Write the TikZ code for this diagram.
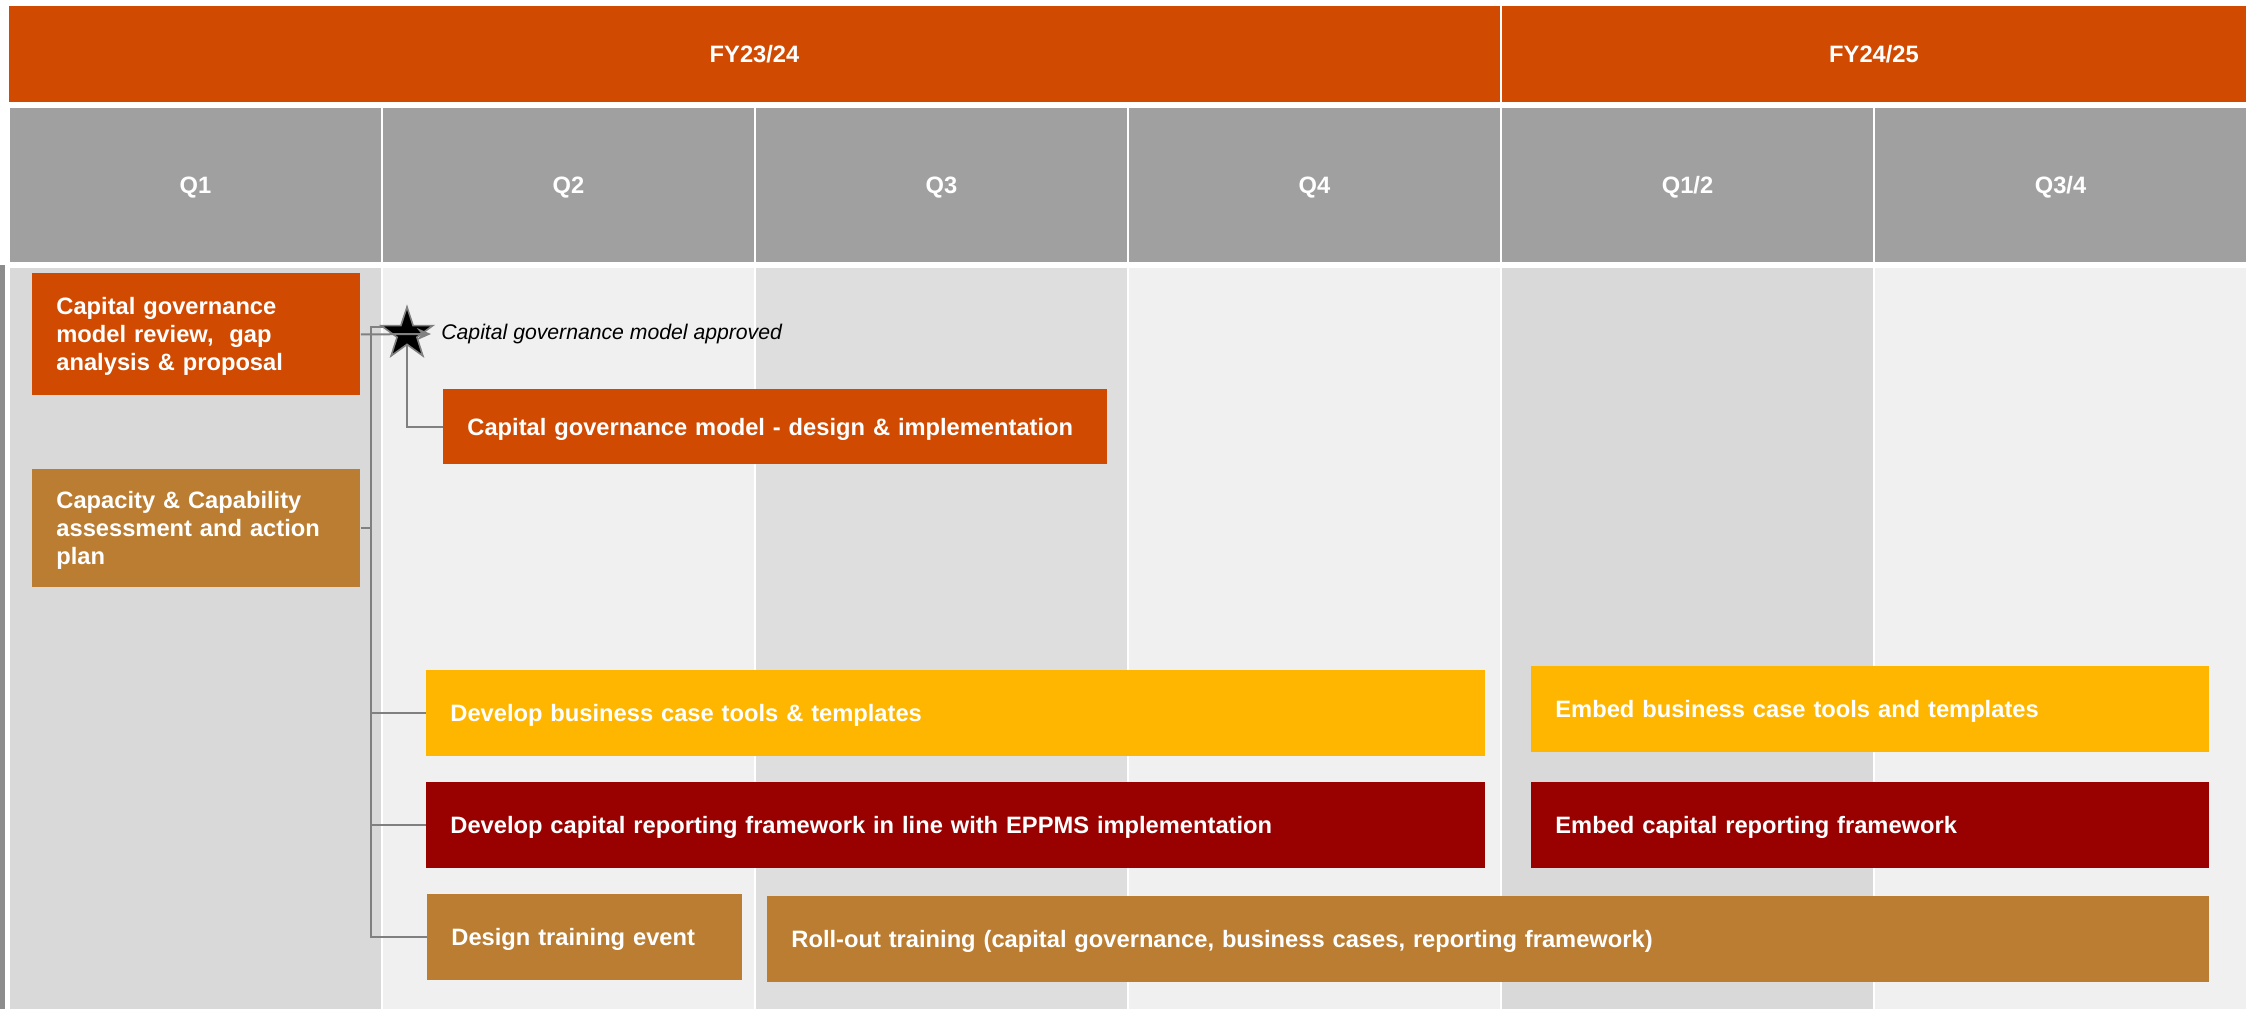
\documentclass[tikz,border=0pt]{standalone}
\usepackage{fontspec}
\setmainfont{Liberation Sans}
\usetikzlibrary{arrows.meta, positioning, shapes.geometric}
\definecolor{pwcorange}{HTML}{D04A02}
\definecolor{pwctan}{HTML}{BA7D32}
\definecolor{pwcyellow}{HTML}{FFB600}
\definecolor{pwcred}{HTML}{990000}
\definecolor{headgrey}{HTML}{A0A0A0}
\definecolor{bandA}{HTML}{D9D9D9}
\definecolor{bandB}{HTML}{F0F0F0}
\definecolor{bandC}{HTML}{DEDEDE}
\definecolor{linkgrey}{HTML}{808080}
\definecolor{edgegrey}{HTML}{8C8C8C}
\newcommand{\taskfont}{\fontsize{11.85}{14}\selectfont\bfseries}
\newcommand{\notefont}{\fontsize{10.6}{12.7}\selectfont\itshape}
\newcommand{\linestrut}{\rule[-0.212em]{0pt}{1.117em}}

\begin{document}
\begin{tikzpicture}[x=0.5pt, y=-0.5pt,
  yearbar/.style={fill=pwcorange, text=white, font=\taskfont, inner sep=0pt, minimum height=48pt, execute at begin node=\linestrut},
  quarter/.style={fill=headgrey, text=white, font=\taskfont, inner sep=0pt, minimum width=185.5pt, minimum height=77pt, execute at begin node=\linestrut},
  task/.style={fill=#1, text=white, font=\taskfont, align=left, anchor=north west, inner xsep=12pt, inner ysep=0pt, execute at begin node=\linestrut, execute at end node=\linestrut},
  link/.style={draw=linkgrey, line width=1pt},
  milestone/.style={star, star points=5, star point ratio=2.6, fill=black, draw=linkgrey, line width=0.8pt, minimum size=27pt, inner sep=0pt}]
  \useasboundingbox (0,0) rectangle (2260,1009);
  \fill[white] (0,0) rectangle (2260,1009);
  % Financial years
  \node[yearbar, minimum width=745.5pt] (fy1) at (754.5,54) {FY23/24};
  \node[yearbar, minimum width=372pt] (fy2) at (1874,54) {FY24/25};
  % Quarters
  \foreach \lab [count=\i from 0] in {Q1,Q2,Q3,Q4,Q1/2,Q3/4}
    \node[quarter] (q\i) at (195.5+373*\i,185) {\lab};
  % Column bands
  \foreach \shade [count=\i from 0] in {bandA,bandB,bandC,bandB,bandA,bandB}
    \fill[\shade] (10+373*\i,268) rectangle (381+373*\i,1009);
  \fill[edgegrey] (0,265) rectangle (5,1009);
  % Activities
  \node[task=pwcorange, text width=140pt, minimum height=61pt] (review) at (32,273) {Capital governance\\model review,~ gap\\analysis \& proposal};
  \node[task=pwctan, text width=140pt, minimum height=59pt] (capacity) at (32,469) {Capacity \& Capability\\assessment and action\\plan};
  \node[task=pwcorange, text width=308pt, minimum height=37.5pt] (design) at (443,389) {Capital governance model - design \& implementation};
  \node[task=pwcyellow, text width=505.5pt, minimum height=43pt] (bizcase) at (426,670) {Develop business case tools \& templates};
  \node[task=pwcred, text width=505.5pt, minimum height=43pt] (report) at (426,782) {Develop capital reporting framework in line with EPPMS implementation};
  \node[task=pwctan, text width=133.5pt, minimum height=43pt] (training) at (427,894) {Design training event};
  \node[task=pwctan, text width=697pt, minimum height=43pt] (rollout) at (767,896) {Roll-out training (capital governance, business cases, reporting framework)};
  \node[task=pwcyellow, text width=315pt, minimum height=43pt] (embedbiz) at (1531,666) {Embed business case tools and templates};
  \node[task=pwcred, text width=315pt, minimum height=43pt] (embedrep) at (1531,782) {Embed capital reporting framework};
  % Connectors
  \coordinate (ms) at (407,334);
  \coordinate (trunk) at (371,327);
  \draw[link] (ms |- trunk) -- (trunk) |- (training.west);
  \draw[link] (capacity.east) -- (capacity.east -| trunk);
  \draw[link] (trunk |- bizcase.west) -- (bizcase.west);
  \draw[link] (trunk |- report.west) -- (report.west);
  \draw[link] (ms) |- (design.west);
  % Milestone
  \node[milestone] (star) at (ms) {};
  \draw[link, -{Stealth[length=7pt, width=6pt]}] (review.east) -- ([xshift=12pt]star.center);
  \node[font=\notefont, anchor=west, inner sep=0pt] (approved) at (441,334) {Capital governance model approved};
\end{tikzpicture}
\end{document}
